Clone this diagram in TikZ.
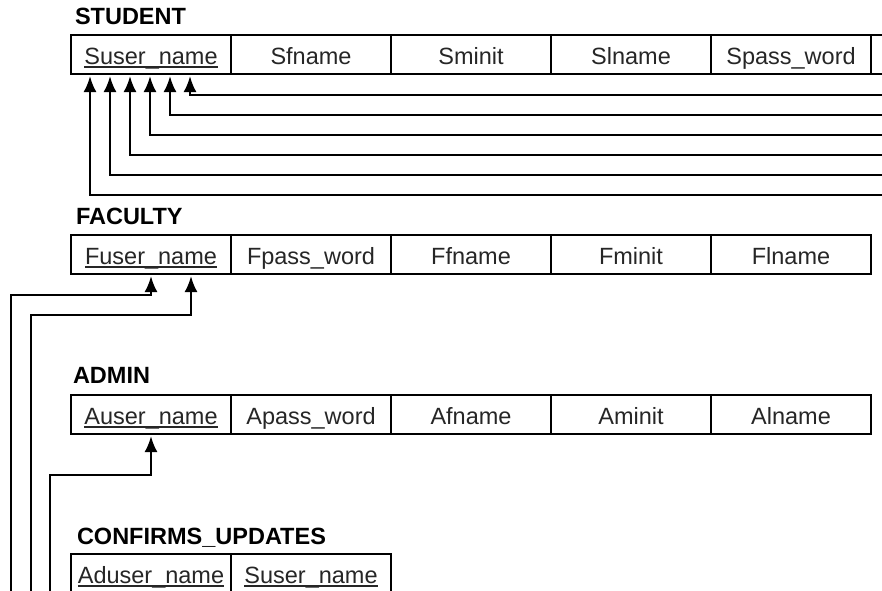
\documentclass[tikz,border=0pt]{standalone}
\usepackage{fontspec}
\setmainfont{Liberation Sans}
\usepackage{xcolor}
\usetikzlibrary{arrows.meta}
\newcommand{\keyname}[1]{\setbox0\hbox{#1}\rlap{\rule[-3.5pt]{\wd0}{1.6pt}}\box0}
\tikzset{
    attr-cell/.style = {draw, line width=2pt, rectangle, minimum width=160pt, minimum height=39pt, inner sep=2pt, outer sep=0pt, text height=19pt, text depth=0pt, text=black!85, font=\fontsize{23.5}{28}\selectfont},
    table-title/.style = {anchor=base west, inner sep=0pt, outer sep=0pt, font=\fontsize{23.5}{28}\selectfont\bfseries},
    fk-arrow/.style = {line width=2.4pt, shorten >=2pt, -{Latex[length=16pt, width=13pt]}},
}
\begin{document}
\begin{tikzpicture}[x=1pt, y=-1pt]
\useasboundingbox (0,0) rectangle (882,590);
\clip (0,0) rectangle (882,590);
% tables
\foreach \txt [count=\i from 0] in {{\keyname{Suser\_name}}, Sfname, Sminit, Slname, Spass\_word, {}}
    \node[attr-cell] (s\i) at (151+160*\i, 54.5) {\txt};
\foreach \txt [count=\i from 0] in {{\keyname{Fuser\_name}}, Fpass\_word, Ffname, Fminit, Flname}
    \node[attr-cell] (f\i) at (151+160*\i, 254.5) {\txt};
\foreach \txt [count=\i from 0] in {{\keyname{Auser\_name}}, Apass\_word, Afname, Aminit, Alname}
    \node[attr-cell] (a\i) at (151+160*\i, 414.5) {\txt};
\foreach \txt [count=\i from 0] in {{\keyname{Aduser\_name}}, {\keyname{Suser\_name}}}
    \node[attr-cell] (c\i) at (151+160*\i, 573.5) {\txt};
% titles
\node[table-title] (student-title) at ([xshift=4pt,yshift=11pt]s0.north west) {STUDENT};
\node[table-title] (faculty-title) at ([xshift=5pt,yshift=11pt]f0.north west) {FACULTY};
\node[table-title] (admin-title) at ([xshift=2pt,yshift=12pt]a0.north west) {ADMIN};
\node[table-title] (confirms-title) at ([xshift=6pt,yshift=10pt]c0.north west) {CONFIRMS\_UPDATES};
% references to Suser_name
\foreach \k in {0,...,5} {
    \coordinate (s-in\k) at (884, 195-20*\k);
    \draw[fk-arrow] (s-in\k) -| ([xshift={20*\k-61}]s0.south);
}
% references to Fuser_name and Auser_name
\coordinate (f-in1) at (11, 592);
\coordinate (f-in2) at (31, 592);
\coordinate (a-in) at (50, 592);
\draw[fk-arrow] (f-in1) |- ([yshift=-21pt]f0.south) -- (f0.south);
\draw[fk-arrow] (f-in2) |- ([xshift=40pt,yshift=-41pt]f0.south) -- ([xshift=40pt]f0.south);
\draw[fk-arrow] (a-in) |- ([yshift=-41pt]a0.south) -- (a0.south);
\end{tikzpicture}
\end{document}
